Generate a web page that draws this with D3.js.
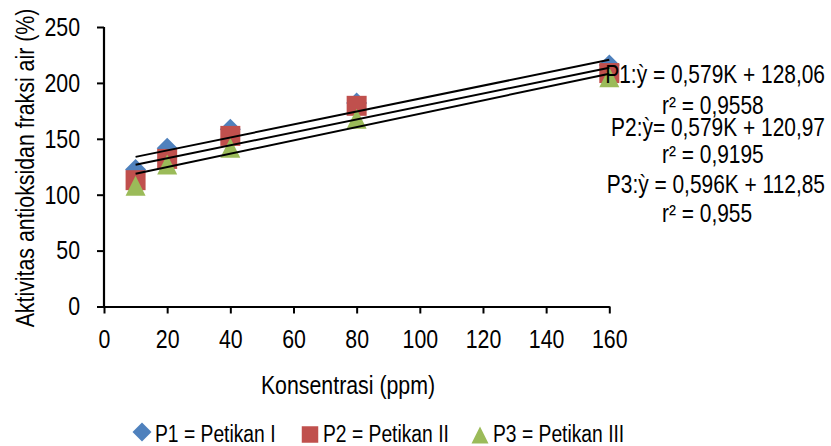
<!DOCTYPE html>
<html><head><meta charset="utf-8">
<script src="https://cdn.jsdelivr.net/npm/d3@7"></script>
<style>body{margin:0;background:#fff}svg{display:block}text{fill:#000}</style>
</head><body><svg id="c" width="831" height="446"></svg>
<script>
const concentrations = [10, 20, 40, 80, 160];
const p1Values = [122.6, 141.6, 158.6, 182, 216];
const p2Values = [113, 132, 152.6, 179.5, 208.8];
const p3Values = [108, 127, 142, 168, 205];
const seriesNames = ["P1 = Petikan I", "P2 = Petikan II", "P3 = Petikan III"];
const trendSlopes = [0.579, 0.579, 0.596];
const trendIntercepts = [128.06, 120.97, 112.85];
const equationLabels = ["P1:ỳ = 0,579K + 128,06", "P2:ỳ= 0,579K + 120,97", "P3:ỳ = 0,596K + 112,85"];
const r2Labels = ["r² = 0,9558", "r² = 0,9195", "r² = 0,955"];
const xTicks = [0, 20, 40, 60, 80, 100, 120, 140, 160];
const yTicks = [0, 50, 100, 150, 200, 250];

const colors = ["#4F81BD", "#C0504D", "#9BBB59"];
const shapes = ["diamond", "square", "triangle"];
const svg = d3.select("#c");

// detect narrow font availability
function probeLen(fam) {
  const t = svg.append("text").style("font-family", fam).style("font-size", "100px").text("Petikan 0123 Konsentrasi");
  const l = t.node().getComputedTextLength(); t.remove(); return l;
}
const wideLen = probeLen("'Liberation Sans'");
const narrowLen = probeLen("'Liberation Sans Narrow','Liberation Sans'");
const narrowOK = narrowLen < wideLen * 0.9;
const FAMILY = narrowOK ? "'Liberation Sans Narrow','Arial Narrow',sans-serif" : "'Liberation Sans',Arial,sans-serif";

const x = d3.scaleLinear().domain([0, 160]).range([104, 609.3]);
const y = d3.scaleLinear().domain([0, 250]).range([306.5, 27]);

// axes
const xAxis = svg.append("g").attr("transform", `translate(0,${y(0)})`)
  .call(d3.axisBottom(x).tickValues(xTicks).tickSize(7).tickPadding(16).tickSizeOuter(0));
const yAxis = svg.append("g").attr("transform", `translate(${x(0)},0)`)
  .call(d3.axisLeft(y).tickValues(yTicks).tickSize(7).tickPadding(17).tickSizeOuter(0));
[xAxis, yAxis].forEach(a => {
  a.attr("font-family", null).attr("font-size", null);
  a.selectAll(".domain").attr("stroke", "#000").attr("stroke-width", 2.2);
  a.selectAll(".tick line").attr("stroke", "#000").attr("stroke-width", 2);
  a.selectAll(".tick text").style("font-size", "26px").attr("fill", "#000");
});
yAxis.select(".domain").attr("d", `M0,${y(250)}V${y(0)+1}`);

function markerPath(shape, cx, cy, s) {
  const h = s / 2;
  if (shape === "diamond") return `M${cx},${cy-h}L${cx+h},${cy}L${cx},${cy+h}L${cx-h},${cy}Z`;
  if (shape === "square") return `M${cx-h},${cy-h}h${s}v${s}h${-s}Z`;
  return `M${cx},${cy-h}L${cx+h},${cy+h}L${cx-h},${cy+h}Z`;
}

const allSeries = [p1Values, p2Values, p3Values];
allSeries.forEach((vals, i) => {
  svg.append("g").selectAll("path").data(concentrations).join("path")
    .attr("d", (c, j) => markerPath(shapes[i], x(c), y(vals[j]), i === 0 ? 21 : 20))
    .attr("fill", colors[i]);
});

// trendlines
trendSlopes.forEach((m, i) => {
  const x0 = concentrations[0], x1 = concentrations[concentrations.length - 1];
  svg.append("line")
    .attr("x1", x(x0)).attr("y1", y(m * x0 + trendIntercepts[i]))
    .attr("x2", x(x1)).attr("y2", y(m * x1 + trendIntercepts[i]))
    .attr("stroke", "#000").attr("stroke-width", 2);
});

// equation labels
const eqBase = [83, 136, 193];
const r2Base = [114, 163, 222];
equationLabels.forEach((t, i) => {
  svg.append("text").attr("x", 825).attr("y", eqBase[i]).attr("text-anchor", "end")
    .style("font-size", "25.5px").text(t);
  svg.append("text").attr("x", 662).attr("y", r2Base[i]).attr("text-anchor", "start")
    .style("font-size", "25.5px").text(r2Labels[i]);
});

// axis titles
svg.append("text").attr("x", 348).attr("y", 394).attr("text-anchor", "middle")
  .style("font-size", "26px").text("Konsentrasi (ppm)");
svg.append("text").attr("transform", `translate(34,168) rotate(-90)`).attr("text-anchor", "middle")
  .style("font-size", "26px").text("Aktivitas antioksidan fraksi air (%)");

// legend
const legendX = [142, 310, 480];
const legendMarkY = [432, 434.5, 435];
const legendSizes = [19, 16.5, 17];
seriesNames.forEach((n, i) => {
  svg.append("path").attr("d", markerPath(shapes[i], legendX[i], legendMarkY[i], legendSizes[i])).attr("fill", colors[i]);
  svg.append("text").attr("x", legendX[i] + 13).attr("y", 442)
    .style("font-size", "23.5px").text(n);
});

// font family and narrow fallback
svg.selectAll("text").style("font-family", FAMILY);
if (!narrowOK) {
  svg.selectAll("text").each(function() {
    const L = this.getComputedTextLength();
    this.setAttribute("textLength", (L * 0.82).toFixed(2));
    this.setAttribute("lengthAdjust", "spacingAndGlyphs");
  });
}
</script></body></html>
